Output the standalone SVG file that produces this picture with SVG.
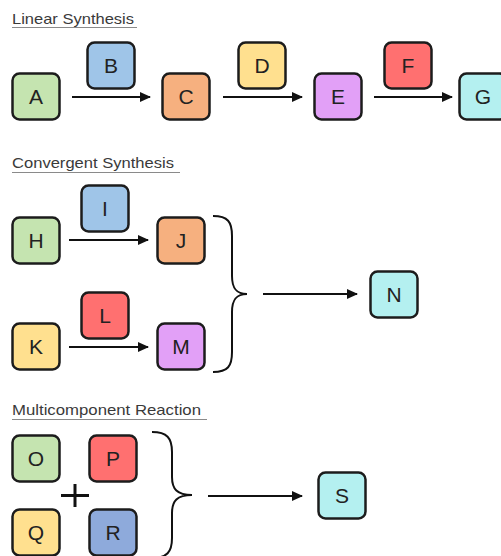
<svg xmlns="http://www.w3.org/2000/svg" width="501" height="556" viewBox="0 0 501 556">
<style>
.box{stroke:#1c1c1c;stroke-width:2.5}
.lbl{font-family:"Liberation Sans",Arial,sans-serif;font-size:21px;fill:#222;text-anchor:middle}
.title{font-family:"Liberation Sans",Arial,sans-serif;font-size:15px;fill:#3a3a3a}
.ul{stroke:#8a8a8a;stroke-width:1.2}
.arr{stroke:#111;stroke-width:2;fill:none}
.brace{stroke:#111;stroke-width:2;fill:none}
.g{fill:#c5e4b0}.b{fill:#9fc5e8}.o{fill:#f6b07f}.y{fill:#ffe08f}.p{fill:#e2a0f7}.r{fill:#ff7070}.c{fill:#b4f0f0}.db{fill:#8eaadb}
</style>
<defs>
<marker id="ah" markerWidth="11" markerHeight="11" refX="10" refY="5.5" orient="auto" markerUnits="userSpaceOnUse">
<path d="M0,0.5 L11,5.5 L0,10.5 Z" fill="#111"/>
</marker>
</defs>
<rect width="501" height="556" fill="#fff"/>
<g id="titles">
<text class="title" x="12" y="24" textLength="122" lengthAdjust="spacingAndGlyphs">Linear Synthesis</text>
<line class="ul" x1="12" y1="27.5" x2="137" y2="27.5"/>
<text class="title" x="12" y="168" textLength="162" lengthAdjust="spacingAndGlyphs">Convergent Synthesis</text>
<line class="ul" x1="12" y1="172.5" x2="180" y2="172.5"/>
<text class="title" x="12" y="415" textLength="189" lengthAdjust="spacingAndGlyphs">Multicomponent Reaction</text>
<line class="ul" x1="12" y1="419.5" x2="207" y2="419.5"/>
</g>
<g id="connectors">
<line class="arr" x1="72" y1="97" x2="150" y2="97" marker-end="url(#ah)"/>
<line class="arr" x1="223" y1="97" x2="302" y2="97" marker-end="url(#ah)"/>
<line class="arr" x1="374" y1="97" x2="452" y2="97" marker-end="url(#ah)"/>
<line class="arr" x1="69" y1="240" x2="148" y2="240" marker-end="url(#ah)"/>
<line class="arr" x1="69" y1="347" x2="148" y2="347" marker-end="url(#ah)"/>
<path class="brace" d="M213,216 C228,216 232,222 232,236 L232,276 C232,288 236,294 247,294 C236,294 232,300 232,312 L232,352 C232,366 228,372 213,372"/>
<line class="arr" x1="263" y1="294" x2="357" y2="294" marker-end="url(#ah)"/>
<path class="brace" d="M152,432 C167,432 172,438 172,452 L172,477 C172,489 177,495 192,495 C177,495 172,501 172,513 L172,538 C172,552 167,558 152,558"/>
<line class="arr" x1="208" y1="496" x2="302" y2="496" marker-end="url(#ah)"/>
<g id="plus" stroke="#111" stroke-width="3">
<line x1="61" y1="495.5" x2="89" y2="495.5"/>
<line x1="75" y1="484" x2="75" y2="507"/>
</g>
</g>
<g id="A"><rect class="box g" x="12.5" y="73.5" width="47" height="46" rx="7"/><text class="lbl" x="36" y="104">A</text></g>
<g id="B"><rect class="box b" x="87.5" y="42.5" width="47" height="46" rx="7"/><text class="lbl" x="111" y="73">B</text></g>
<g id="C"><rect class="box o" x="162.5" y="73.5" width="47" height="46" rx="7"/><text class="lbl" x="186" y="104">C</text></g>
<g id="D"><rect class="box y" x="238.5" y="42.5" width="47" height="46" rx="7"/><text class="lbl" x="262" y="73">D</text></g>
<g id="E"><rect class="box p" x="314.5" y="73.5" width="47" height="46" rx="7"/><text class="lbl" x="338" y="104">E</text></g>
<g id="F"><rect class="box r" x="384.5" y="42.5" width="47" height="46" rx="7"/><text class="lbl" x="408" y="73">F</text></g>
<g id="G"><rect class="box c" x="459.5" y="73.5" width="47" height="46" rx="7"/><text class="lbl" x="483" y="104">G</text></g>
<g id="H"><rect class="box g" x="12.5" y="217.5" width="47" height="46" rx="7"/><text class="lbl" x="36" y="248">H</text></g>
<g id="I"><rect class="box b" x="81.5" y="185.5" width="47" height="46" rx="7"/><text class="lbl" x="105" y="216">I</text></g>
<g id="J"><rect class="box o" x="157.5" y="217.5" width="47" height="46" rx="7"/><text class="lbl" x="181" y="248">J</text></g>
<g id="K"><rect class="box y" x="12.5" y="323.5" width="47" height="46" rx="7"/><text class="lbl" x="36" y="354">K</text></g>
<g id="L"><rect class="box r" x="81.5" y="292.5" width="47" height="46" rx="7"/><text class="lbl" x="105" y="323">L</text></g>
<g id="M"><rect class="box p" x="157.5" y="323.5" width="47" height="46" rx="7"/><text class="lbl" x="181" y="354">M</text></g>
<g id="N"><rect class="box c" x="370.5" y="271.5" width="47" height="46" rx="7"/><text class="lbl" x="394" y="302">N</text></g>
<g id="O"><rect class="box g" x="12.5" y="435.5" width="47" height="46" rx="7"/><text class="lbl" x="36" y="466">O</text></g>
<g id="P"><rect class="box r" x="89.5" y="435.5" width="47" height="46" rx="7"/><text class="lbl" x="113" y="466">P</text></g>
<g id="Q"><rect class="box y" x="12.5" y="509.5" width="47" height="46" rx="7"/><text class="lbl" x="36" y="540">Q</text></g>
<g id="R"><rect class="box db" x="89.5" y="509.5" width="47" height="46" rx="7"/><text class="lbl" x="113" y="540">R</text></g>
<g id="S"><rect class="box c" x="318.5" y="472.5" width="47" height="46" rx="7"/><text class="lbl" x="342" y="503">S</text></g>
</svg>
